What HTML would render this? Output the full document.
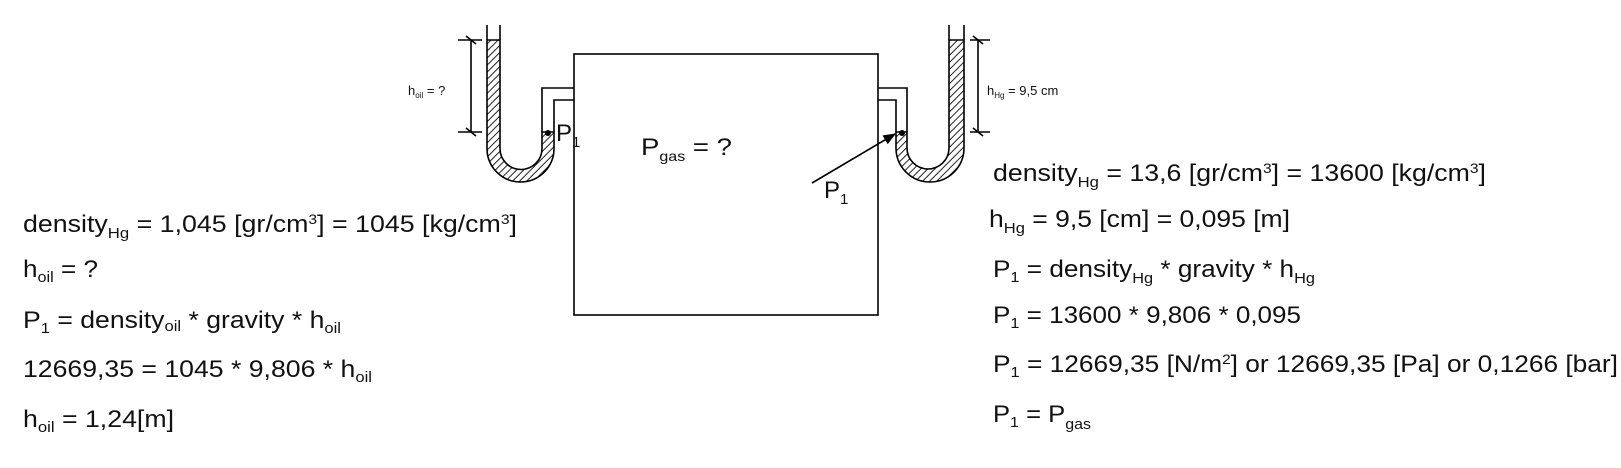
<!DOCTYPE html>
<html><head><meta charset="utf-8"><style>
html,body{margin:0;padding:0;background:#fff;}
svg{display:block;font-family:"Liberation Sans",Arial,sans-serif;}
</style></head><body>
<svg width="1621" height="468" viewBox="0 0 1621 468" xmlns="http://www.w3.org/2000/svg">
<defs>
<pattern id="h" width="5" height="5" patternUnits="userSpaceOnUse" patternTransform="rotate(45)">
<rect width="5" height="5" fill="#fff"/><line x1="0" y1="0" x2="0" y2="5" stroke="#222" stroke-width="2"/>
</pattern>
<marker id="ar" viewBox="0 0 10 10" refX="9" refY="5" markerWidth="8" markerHeight="8" orient="auto"><path d="M0,1 L10,5 L0,9 Z" fill="#000"/></marker>
</defs>
<g stroke="#000" stroke-width="1.6" fill="none">
<rect x="574" y="54" width="304" height="261"/>
<path d="M487,40 L487,148.5 A33.5,33.5 0 0 0 554,148.5 L554,132 L542,132 L542,148.5 A21,21 0 0 1 500,148.5 L500,40 Z" fill="url(#h)"/>
<line x1="487" y1="25" x2="487" y2="40"/><line x1="500" y1="25" x2="500" y2="40"/>
<polyline points="542,132 542,88 574,88"/><polyline points="554,132 554,100 574,100"/>
<line x1="471" y1="40" x2="471" y2="132"/>
<line x1="458" y1="40" x2="482" y2="40"/><line x1="458" y1="132" x2="482" y2="132"/>
<line x1="466" y1="36" x2="476" y2="44"/><line x1="466" y1="128" x2="476" y2="136"/>
<path d="M896,132 L896,148 A34,34 0 0 0 964,148 L964,40 L949,40 L949,148 A21,21 0 0 1 907,148 L907,132 Z" fill="url(#h)"/>
<line x1="949" y1="25" x2="949" y2="40"/><line x1="964" y1="25" x2="964" y2="40"/>
<polyline points="907,132 907,88 878,88"/><polyline points="896,132 896,100 878,100"/>
<line x1="978" y1="40" x2="978" y2="132"/>
<line x1="970" y1="40" x2="990" y2="40"/><line x1="970" y1="132" x2="990" y2="132"/>
<line x1="973" y1="36" x2="983" y2="44"/><line x1="973" y1="128" x2="983" y2="136"/>
<line x1="812" y1="183" x2="895" y2="134" marker-end="url(#ar)"/>
</g>
<circle cx="548" cy="133" r="3" fill="#000"/>
<circle cx="902" cy="133" r="3" fill="#000"/>
<g fill="#111" font-size="24">
<text x="556" y="141">P<tspan font-size="15" dy="6">1</tspan></text>
<text x="824" y="198">P<tspan font-size="15" dy="6">1</tspan></text>
<text x="641" y="155" textLength="91" lengthAdjust="spacingAndGlyphs">P<tspan font-size="14" dy="6">gas</tspan><tspan dy="-6"> = ?</tspan></text>
<text x="408" y="95" font-size="13">h<tspan font-size="8" dy="3">oil</tspan><tspan dy="-3"> = ?</tspan></text>
<text x="987" y="95" font-size="13">h<tspan font-size="8" dy="3">Hg</tspan><tspan dy="-3"> = 9,5 cm</tspan></text>

<text x="23" y="232" textLength="494" lengthAdjust="spacingAndGlyphs">density<tspan font-size="15" dy="6">Hg</tspan><tspan dy="-6"> = 1,045 [gr/cm</tspan><tspan font-size="14" dy="-8">3</tspan><tspan dy="8">] = 1045 [kg/cm</tspan><tspan font-size="14" dy="-8">3</tspan><tspan dy="8">]</tspan></text>
<text x="23" y="277" textLength="75" lengthAdjust="spacingAndGlyphs">h<tspan font-size="15" dy="5">oil</tspan><tspan dy="-5"> = ?</tspan></text>
<text x="23" y="328" textLength="318" lengthAdjust="spacingAndGlyphs">P<tspan font-size="15" dy="5">1</tspan><tspan dy="-5"> = density</tspan><tspan font-size="15" dy="3">oil</tspan><tspan dy="-3"> * gravity * h</tspan><tspan font-size="15" dy="5">oil</tspan></text>
<text x="23" y="377" textLength="349" lengthAdjust="spacingAndGlyphs">12669,35 = 1045 * 9,806 * h<tspan font-size="15" dy="5">oil</tspan></text>
<text x="23" y="427" textLength="151" lengthAdjust="spacingAndGlyphs">h<tspan font-size="15" dy="5">oil</tspan><tspan dy="-5"> = 1,24[m]</tspan></text>

<text x="993" y="181" textLength="493" lengthAdjust="spacingAndGlyphs">density<tspan font-size="15" dy="6">Hg</tspan><tspan dy="-6"> = 13,6 [gr/cm</tspan><tspan font-size="14" dy="-8">3</tspan><tspan dy="8">] = 13600 [kg/cm</tspan><tspan font-size="14" dy="-8">3</tspan><tspan dy="8">]</tspan></text>
<text x="989" y="227" textLength="301" lengthAdjust="spacingAndGlyphs">h<tspan font-size="15" dy="6">Hg</tspan><tspan dy="-6"> = 9,5 [cm] = 0,095 [m]</tspan></text>
<text x="993" y="277" textLength="322" lengthAdjust="spacingAndGlyphs">P<tspan font-size="15" dy="5">1</tspan><tspan dy="-5"> = density</tspan><tspan font-size="15" dy="6">Hg</tspan><tspan dy="-6"> * gravity * h</tspan><tspan font-size="15" dy="6">Hg</tspan></text>
<text x="993" y="323" textLength="308" lengthAdjust="spacingAndGlyphs">P<tspan font-size="15" dy="5">1</tspan><tspan dy="-5"> = 13600 * 9,806 * 0,095</tspan></text>
<text x="993" y="372" textLength="625" lengthAdjust="spacingAndGlyphs">P<tspan font-size="15" dy="5">1</tspan><tspan dy="-5"> = 12669,35 [N/m</tspan><tspan font-size="14" dy="-8">2</tspan><tspan dy="8">] or 12669,35 [Pa] or 0,1266 [bar]</tspan></text>
<text x="993" y="422" textLength="98" lengthAdjust="spacingAndGlyphs">P<tspan font-size="15" dy="5">1</tspan><tspan dy="-5"> = P</tspan><tspan font-size="15" dy="7">gas</tspan></text>
</g>
</svg>
</body></html>
